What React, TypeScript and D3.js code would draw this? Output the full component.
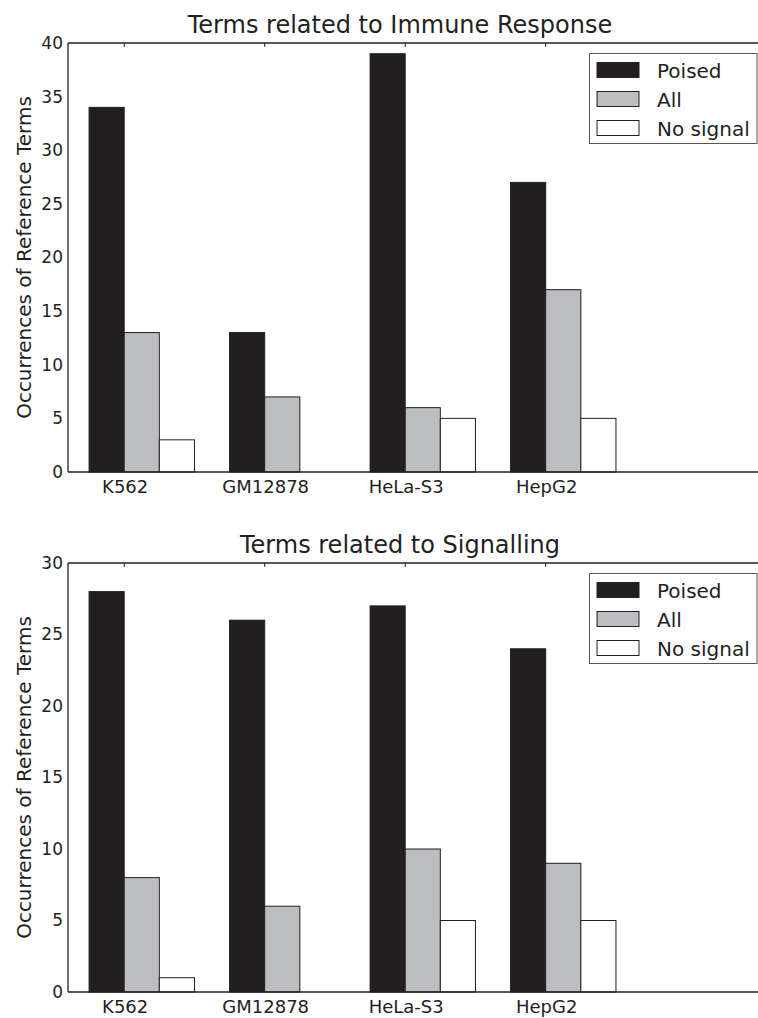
import React from "react";
import * as d3 from "d3";

// cell lines on the x axis
const cellLines = ["K562", "GM12878", "HeLa-S3", "HepG2"];
const seriesNames = ["Poised", "All", "No signal"];
const seriesColors = ["#231f20", "#bcbdc0", "#ffffff"];

// Immune response panel
const immunePoised = [34, 13, 39, 27];
const immuneAll = [13, 7, 6, 17];
const immuneNoSignal = [3, 0, 5, 5];
const immuneTicks = [0, 5, 10, 15, 20, 25, 30, 35, 40];

// Signalling panel
const signalPoised = [28, 26, 27, 24];
const signalAll = [8, 6, 10, 9];
const signalNoSignal = [1, 0, 5, 5];
const signalTicks = [0, 5, 10, 15, 20, 25, 30];

const W = 758;
const H = 1018;
const FONT = "DejaVu Sans, sans-serif";
const INK = "#231f20";
const BAR_W = 0.25;

const xScale = d3.scaleLinear().domain([-0.15, 4.9]).range([68, 68 + 5.05 * 140.5]);

type PanelProps = {
  title: string;
  series: number[][];
  ticks: number[];
  top: number;
  bottom: number;
};

const Panel = ({ title, series, ticks, top, bottom }: PanelProps) => {
  const yMax = ticks[ticks.length - 1];
  const y = d3.scaleLinear().domain([0, yMax]).range([bottom, top]);
  const x0 = xScale.range()[0];
  const x1 = xScale.range()[1];

  return (
    <g>
      {/* title */}
      <text x={400} y={top - 10} textAnchor="middle" fontSize={24} fill={INK} fontFamily={FONT}>
        {title}
      </text>

      {/* y label */}
      <text
        transform={`translate(31,${(top + bottom) / 2}) rotate(-90)`}
        textAnchor="middle"
        fontSize={20}
        fill={INK}
        fontFamily={FONT}
      >
        Occurrences of Reference Terms
      </text>

      {/* bars */}
      {series.map((vals, s) =>
        vals.map((v, i) => {
          const xl = xScale(i + s * BAR_W);
          const xr = xScale(i + (s + 1) * BAR_W);
          return (
            <rect
              key={`${s}-${i}`}
              x={xl}
              y={y(v)}
              width={xr - xl}
              height={y(0) - y(v)}
              fill={seriesColors[s]}
              stroke={INK}
              strokeWidth={1}
            />
          );
        })
      )}

      {/* spines */}
      <line x1={x0} x2={x1} y1={top} y2={top} stroke={INK} strokeWidth={1.3} />
      <line x1={x0} x2={x1} y1={bottom} y2={bottom} stroke={INK} strokeWidth={1.3} />
      <line x1={x0} x2={x0} y1={top} y2={bottom} stroke={INK} strokeWidth={1.3} />

      {/* y ticks */}
      {ticks.map((t) => (
        <text
          key={t}
          x={63}
          y={y(t)}
          dy="0.35em"
          textAnchor="end"
          fontSize={17}
          fill={INK}
          fontFamily={FONT}
        >
          {t}
        </text>
      ))}

      {/* x ticks */}
      {cellLines.map((c, i) => (
        <g key={c}>
          <line
            x1={xScale(i + BAR_W)}
            x2={xScale(i + BAR_W)}
            y1={top}
            y2={top + 4}
            stroke={INK}
            strokeWidth={1}
          />
          <text
            x={xScale(i + BAR_W) + 1}
            y={bottom + 21}
            textAnchor="middle"
            fontSize={18}
            fill={INK}
            fontFamily={FONT}
          >
            {c}
          </text>
        </g>
      ))}

      {/* legend */}
      <g transform={`translate(589,${top + 10})`}>
        <rect x={0.5} y={0.5} width={167.5} height={90} fill="#fff" stroke="#555" strokeWidth={1} />
        {seriesNames.map((n, k) => (
          <g key={n} transform={`translate(0,${17 + k * 29})`}>
            <rect x={8} y={-7.5} width={42} height={15} fill={seriesColors[k]} stroke={INK} strokeWidth={1} />
            <text x={68} y={1} dy="0.35em" fontSize={20} fill={INK} fontFamily={FONT}>
              {n}
            </text>
          </g>
        ))}
      </g>
    </g>
  );
};

const App = () => {
  return (
    <svg
      width={W}
      height={H}
      style={{ position: "absolute", left: 0, top: 0, background: "#fff" }}
    >
      <rect x={0} y={0} width={W} height={H} fill="#fff" />
      <Panel
        title="Terms related to Immune Response"
        series={[immunePoised, immuneAll, immuneNoSignal]}
        ticks={immuneTicks}
        top={43}
        bottom={472}
      />
      <Panel
        title="Terms related to Signalling"
        series={[signalPoised, signalAll, signalNoSignal]}
        ticks={signalTicks}
        top={563}
        bottom={992}
      />
    </svg>
  );
};

export default App;
